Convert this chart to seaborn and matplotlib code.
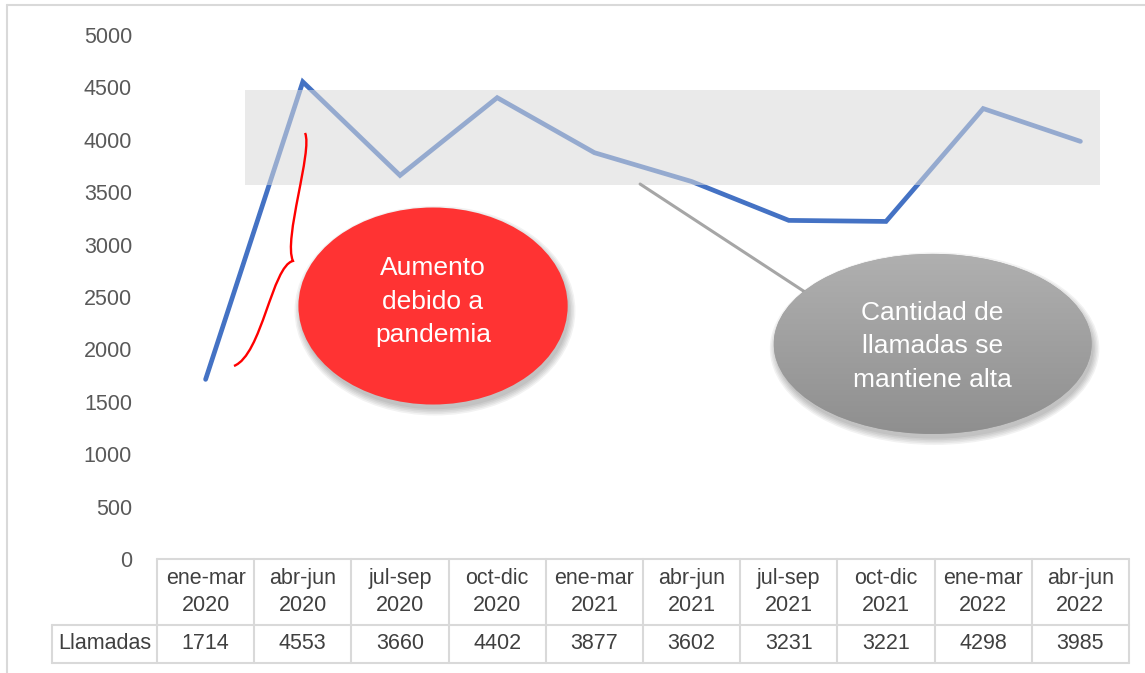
import numpy as np
import pandas as pd
import matplotlib.pyplot as plt
import seaborn as sns
from matplotlib.patches import Ellipse, Rectangle, PathPatch
from matplotlib.path import Path
from matplotlib.lines import Line2D
from matplotlib.colors import LinearSegmentedColormap

# Datos: llamadas por trimestre
periodos = ['ene-mar\n2020', 'abr-jun\n2020', 'jul-sep\n2020', 'oct-dic\n2020',
            'ene-mar\n2021', 'abr-jun\n2021', 'jul-sep\n2021', 'oct-dic\n2021',
            'ene-mar\n2022', 'abr-jun\n2022']
llamadas = [1714, 4553, 3660, 4402, 3877, 3602, 3231, 3221, 4298, 3985]
ticks_y = list(range(0, 5001, 500))
etiqueta_fila = 'Llamadas'

# franja de "llamadas altas"
franja_min, franja_max = 3570, 4475

sns.set_style('white')
plt.rcParams['font.family'] = ['Liberation Sans', 'DejaVu Sans']

W, H = 1145, 673
fig = plt.figure(figsize=(W / 100, H / 100), dpi=100)
ax = fig.add_axes([157 / W, 114 / H, 972 / W, 524 / H])

df = pd.DataFrame({'periodo': periodos, 'llamadas': llamadas})
sns.lineplot(data=df, x='periodo', y='llamadas', sort=False, color='#4472C4',
             linewidth=3.4, ax=ax, zorder=3)
ax.lines[0].set_solid_capstyle('round')
ax.lines[0].set_solid_joinstyle('miter')

ax.set_xlim(-0.5, len(periodos) - 0.5)
ax.set_ylim(0, 5000)
ax.set_yticks(ticks_y)
ax.set_xticks([])
ax.set_xlabel('')
ax.set_ylabel('')
for s in ax.spines.values():
    s.set_visible(False)
ax.tick_params(axis='y', length=0, pad=18, labelsize=15.5, labelcolor='#595959')

# franja gris semitransparente
ax.add_patch(Rectangle((0.405, franja_min), 9.2 - 0.405, franja_max - franja_min,
                       facecolor='#D9D9D9', alpha=0.55, edgecolor='none', zorder=4))

# llave roja
verts = [(1.023, 4065), (1.105, 3903), (0.796, 3044), (0.899, 2844),
         (0.683, 2796), (0.580, 1947), (0.292, 1842)]
codes = [Path.MOVETO, Path.CURVE4, Path.CURVE4, Path.CURVE4,
         Path.CURVE4, Path.CURVE4, Path.CURVE4]
ax.add_patch(PathPatch(Path(verts, codes), fill=False, edgecolor='#FF0000',
                       lw=1.7, zorder=5, clip_on=False))

# conector gris
ax.plot([4.47, 6.37], [3578, 2424], color='#A6A6A6', lw=2.2, zorder=5)


def sombra(cx, cy, w, h):
    for k in range(5):
        ax.add_patch(Ellipse((cx + 0.02, cy - 45), w + 0.03 * k, h + 30 * k,
                             facecolor='black', alpha=0.05, edgecolor='none',
                             zorder=6))


# elipse roja
rx, ry, rw, rh = 2.34, 2414, 2.77, 1880
sombra(rx, ry, rw, rh)
ax.add_patch(Ellipse((rx, ry), rw, rh, facecolor='#FF3333', edgecolor='none', zorder=7))
ax.text(rx, ry + 40, 'Aumento\ndebido a\npandemia', ha='center', va='center',
        color='white', fontsize=19, linespacing=1.5, zorder=8)

# elipse gris con degradado
gx, gy, gw, gh = 7.48, 2052, 3.27, 1718
sombra(gx, gy, gw, gh)
elipse_gris = Ellipse((gx, gy), gw, gh, facecolor='#A0A0A0', edgecolor='none', zorder=7)
ax.add_patch(elipse_gris)
cmap_gris = LinearSegmentedColormap.from_list('gris', ['#B0B0B0', '#8F8F8F'])
im = ax.imshow(np.linspace(0, 1, 256).reshape(-1, 1), cmap=cmap_gris, aspect='auto',
               extent=[gx - gw / 2, gx + gw / 2, gy - gh / 2, gy + gh / 2], zorder=7)
im.set_clip_path(elipse_gris)
ax.set_xlim(-0.5, len(periodos) - 0.5)
ax.set_ylim(0, 5000)
ax.text(gx, gy - 20, 'Cantidad de\nllamadas se\nmantiene alta', ha='center', va='center',
        color='white', fontsize=19, linespacing=1.5, zorder=8)

# tabla de datos
borde = '#D9D9D9'
xt = ax.get_xaxis_transform()
y_sep, y_fin, x_lab = -0.126, -0.1985, -0.108
for i in range(len(periodos) + 1):
    ax.plot([i - 0.5, i - 0.5], [0, y_fin], transform=xt, color=borde, lw=1.5, clip_on=False)
ax.plot([0, 1], [0, 0], transform=ax.transAxes, color=borde, lw=1.5, clip_on=False)
for yy in (y_sep, y_fin):
    ax.plot([x_lab, 1], [yy, yy], transform=ax.transAxes, color=borde, lw=1.5, clip_on=False)
ax.plot([x_lab, x_lab], [y_sep, y_fin], transform=ax.transAxes, color=borde, lw=1.5,
        clip_on=False)

for i, (p, v) in enumerate(zip(periodos, llamadas)):
    ax.text(i, -0.063, p, transform=xt, ha='center', va='center', fontsize=15.5,
            color='#404040', linespacing=1.35)
    ax.text(i, -0.162, str(v), transform=xt, ha='center', va='center', fontsize=15.5,
            color='#404040')
ax.text(x_lab / 2, -0.162, etiqueta_fila, transform=ax.transAxes, ha='center',
        va='center', fontsize=15.5, color='#404040')

# marco exterior
fig.add_artist(Line2D([7 / W, 1], [1 - 5 / H, 1 - 5 / H], transform=fig.transFigure,
                      color=borde, lw=1.5))
fig.add_artist(Line2D([7 / W, 7 / W], [0, 1 - 5 / H], transform=fig.transFigure,
                      color=borde, lw=1.5))

fig.savefig('out.png', dpi=100)
